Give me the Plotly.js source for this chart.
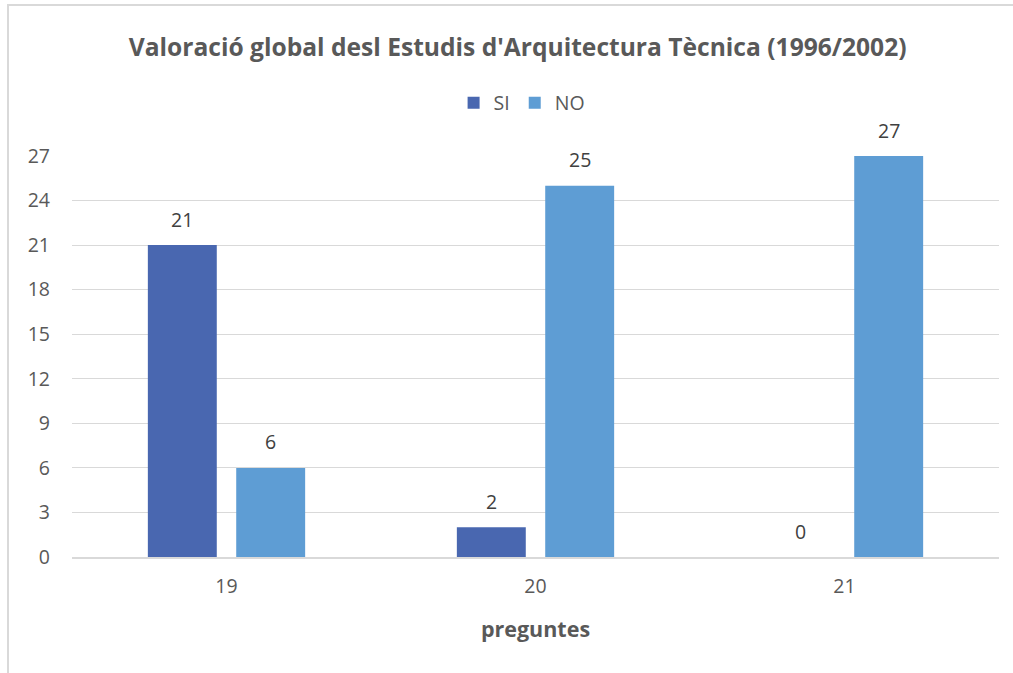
<!DOCTYPE html>
<html>
<head>
<meta charset="utf-8">
<script src="https://cdn.plot.ly/plotly-3.0.1.min.js"></script>
<style>
html,body{margin:0;padding:0;background:#fff;overflow:hidden;}
#frame{position:absolute;left:7px;top:4px;width:1100px;height:800px;border-left:2px solid #d9d9d9;border-top:2px solid #d9d9d9;box-sizing:border-box;pointer-events:none;}
#chart{position:absolute;left:0;top:0;width:1013px;height:673px;}
</style>
</head>
<body>
<div id="chart"></div>
<div id="frame"></div>
<script>
const categories = ['19', '20', '21'];
const siValues = [21, 2, 0];
const noValues = [6, 25, 27];
const tickVals = [0, 3, 6, 9, 12, 15, 18, 21, 24, 27];

const FONT = 'Open Sans, Liberation Sans, sans-serif';
const W = 1013, H = 673;
const M = {l: 72, r: 14, t: 156, b: 116};
const BARGAP = 0.428, GROUPGAP = 0.22;

// horizontal offset of each bar centre within its category (pixels)
const catW = (W - M.l - M.r) / categories.length;
const slot = catW * (1 - BARGAP) / 2;
const offs = [-slot / 2, slot / 2];

const traces = [
  {type: 'bar', name: 'SI', x: categories, y: siValues, marker: {color: '#4967B0'}},
  {type: 'bar', name: 'NO', x: categories, y: noValues, marker: {color: '#5E9DD4'}}
];

const annotations = [];
[siValues, noValues].forEach((vals, s) => {
  vals.forEach((v, i) => {
    annotations.push({
      x: i, y: v, xref: 'x', yref: 'y',
      text: String(v), showarrow: false,
      xshift: offs[s], yshift: 26, yanchor: 'middle',
      font: {size: 19.5, color: '#404040', family: FONT}
    });
  });
});

const layout = {
  width: W, height: H,
  margin: M,
  paper_bgcolor: '#ffffff', plot_bgcolor: '#ffffff',
  font: {family: FONT, color: '#595959', size: 19},
  title: {
    text: "<b>Valoració global desl Estudis d'Arquitectura Tècnica (1996/2002)</b>",
    font: {size: 24.6, color: '#595959', family: FONT},
    x: 0.511, xanchor: 'center', y: 0.930, yanchor: 'middle'
  },
  barmode: 'group', bargap: BARGAP, bargroupgap: GROUPGAP,
  showlegend: true,
  legend: {
    orientation: 'h', x: 0.485, xanchor: 'center', y: 1.132, yanchor: 'middle',
    font: {size: 19.5, color: '#595959'}, itemwidth: 30, traceorder: 'normal'
  },
  annotations: annotations,
  xaxis: {
    type: 'category', range: [-0.5, categories.length - 0.5], autorange: false,
    showgrid: false, showline: true, linecolor: '#d9d9d9', linewidth: 2,
    ticks: '', tickfont: {size: 19.5, color: '#595959'}, ticklabelstandoff: 11,
    title: {text: '<b>preguntes</b>', font: {size: 21.5, color: '#595959'}, standoff: 24}
  },
  yaxis: {
    range: [0, 27], autorange: false, tickvals: tickVals, ticktext: tickVals.map(String),
    showgrid: true, gridcolor: '#d9d9d9', gridwidth: 1,
    zeroline: false, showline: false, ticks: '',
    tickfont: {size: 19.5, color: '#595959'}, ticklabelstandoff: 21
  }
};

Plotly.newPlot('chart', traces, layout, {displayModeBar: false, staticPlot: true});
</script>
</body>
</html>
